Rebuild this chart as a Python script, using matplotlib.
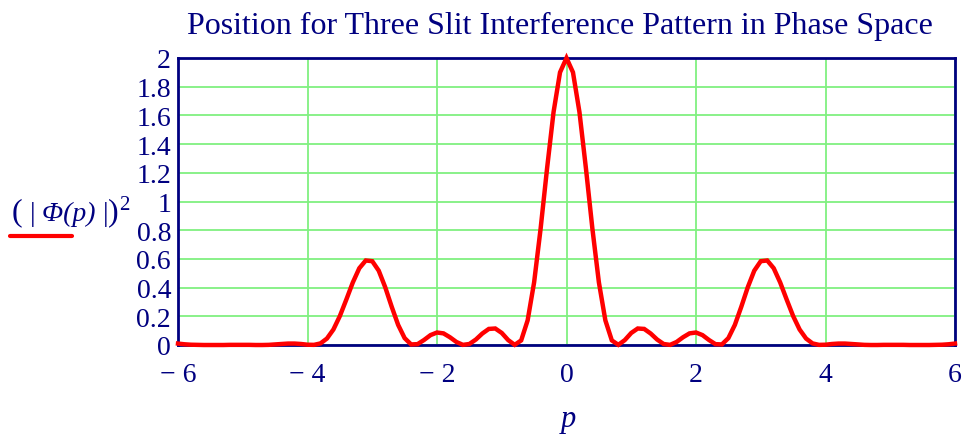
import matplotlib
matplotlib.use("Agg")
import matplotlib.pyplot as plt
import numpy as np

# Sample positions (p) and |Phi(p)|^2 values (step 0.1, symmetric)
p_pos = [round(0.1 * i, 1) for i in range(61)]
phi2_pos = [2.000, 1.900, 1.623, 1.231, 0.810, 0.437, 0.172, 0.032, 0.001, 0.034,
            0.084, 0.115, 0.112, 0.080, 0.038, 0.007, 0.001, 0.021, 0.054, 0.081,
            0.087, 0.069, 0.035, 0.006, 0.004, 0.048, 0.140, 0.267, 0.403, 0.518,
            0.584, 0.589, 0.535, 0.436, 0.317, 0.202, 0.108, 0.045, 0.011, 0.001,
            0.002, 0.007, 0.010, 0.010, 0.007, 0.004, 0.001, 0.000, 0.000, 0.001,
            0.001, 0.001, 0.001, 0.000, 0.000, 0.000, 0.000, 0.001, 0.002, 0.005,
            0.010]
p_vals = [-v for v in p_pos[:0:-1]] + p_pos
phi2_vals = phi2_pos[:0:-1] + phi2_pos

x_ticks = [-6, -4, -2, 0, 2, 4, 6]
x_tick_labels = ["\u2212 6", "\u2212 4", "\u2212 2", "0", "2", "4", "6"]
y_ticks = [0, 0.2, 0.4, 0.6, 0.8, 1, 1.2, 1.4, 1.6, 1.8, 2]
y_tick_labels = ["0", "0.2", "0.4", "0.6", "0.8", "1", "1.2", "1.4", "1.6", "1.8", "2"]
title = "Position for Three Slit Interference Pattern in Phase Space"

navy = "#000080"
grid_green = "#80F080"

plt.rcParams["font.family"] = ["Liberation Serif", "DejaVu Serif"]

fig = plt.figure(figsize=(9.72, 4.35), dpi=100)
ax = fig.add_axes([178 / 972, 1 - 346 / 435, (955 - 178) / 972, (346 - 59) / 435])

ax.plot(p_vals, phi2_vals, color="red", lw=3.2, solid_joinstyle="miter", zorder=3, clip_on=False)

ax.set_xlim(-6, 6)
ax.set_ylim(0, 2)
ax.set_xticks(x_ticks)
ax.set_xticklabels(x_tick_labels)
ax.set_yticks(y_ticks)
ax.set_yticklabels(y_tick_labels)
ax.tick_params(length=0, labelsize=20, colors=navy, pad=5)
ax.tick_params(axis="x", pad=12)

ax.grid(True, color=grid_green, lw=1.3, zorder=0)
ax.set_axisbelow(True)
for s in ax.spines.values():
    s.set_color(navy)
    s.set_linewidth(2.0)

fig.text(560 / 972, 1 - 26 / 435, title, ha="center", va="center", fontsize=23, color=navy)
fig.text(568 / 972, 1 - 420 / 435, "p", ha="center", va="center", fontsize=22,
         color=navy, style="italic")

# y-axis label built from pieces: ( | Φ(p) | )²
pieces = [("(", "normal", 23, 0), (" |", "normal", 20, 0), (" \u03a6(p)", "italic", 20, 0),
          (" |", "normal", 20, 0), (")", "normal", 23, 0), ("2", "normal", 15, 9)]
prev = fig.text(12 / 972, 1 - 220 / 435, pieces[0][0], ha="left", va="baseline",
                fontsize=pieces[0][2], color=navy, style=pieces[0][1])
for txt, sty, fs, rise in pieces[1:]:
    prev = ax.annotate(txt, xy=(1, 0), xycoords=prev, xytext=(0, rise),
                       textcoords="offset points", ha="left", va="bottom",
                       fontsize=fs, color=navy, style=sty, annotation_clip=False)
fig.add_artist(plt.Line2D([10 / 972, 72 / 972], [1 - 237 / 435, 1 - 237 / 435],
                          color="red", lw=3.0, solid_capstyle="round"))

fig.savefig("out.png", dpi=100)
